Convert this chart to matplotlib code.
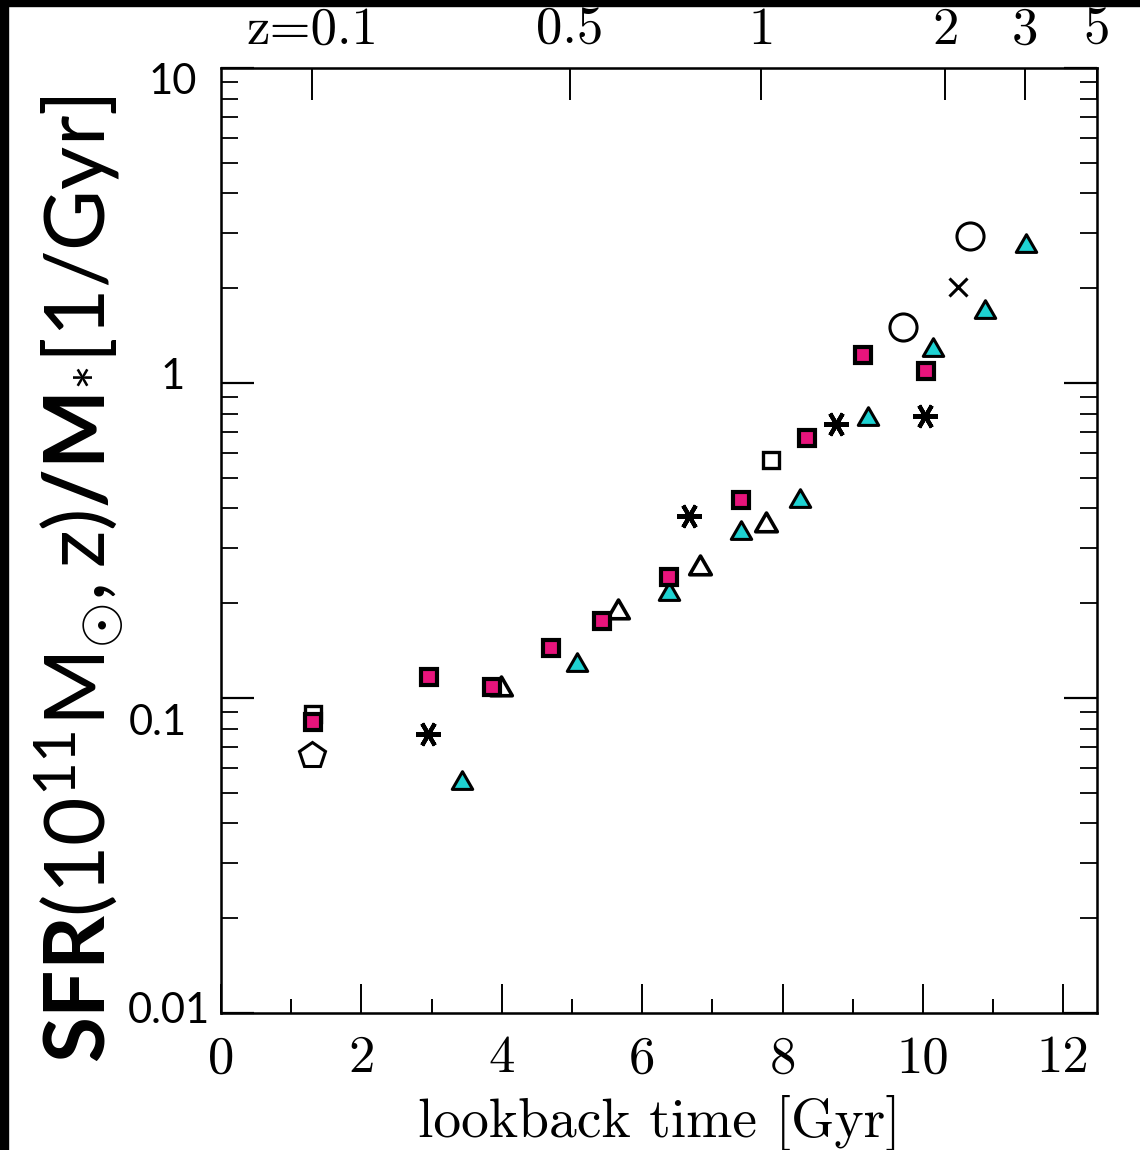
import matplotlib
matplotlib.use('Agg')
import matplotlib.pyplot as plt
from matplotlib.patches import Rectangle
from matplotlib.path import Path
from matplotlib import transforms

# values: lookback time [Gyr], SFR/M* [1/Gyr]
pink_t = [1.31, 2.96, 3.86, 4.70, 5.43, 6.38, 7.41, 8.35, 9.15, 10.04]
pink_s = [0.084, 0.117, 0.108, 0.144, 0.176, 0.243, 0.424, 0.668, 1.23, 1.09]
cyan_t = [3.43, 5.07, 6.38, 7.41, 8.25, 9.22, 10.14, 10.88, 11.47]
cyan_s = [0.0536, 0.127, 0.214, 0.333, 0.421, 0.768, 1.27, 1.68, 2.73]
otri_t = [3.99, 5.66, 6.82, 7.76]
otri_s = [0.107, 0.188, 0.259, 0.353]
star_t = [2.95, 6.67, 8.76, 10.03]
star_s = [0.077, 0.377, 0.740, 0.785]
circ_t = [9.72, 10.67]
circ_s = [1.51, 2.92]
cross_t = [10.50]
cross_s = [2.01]
osq_t = [1.31, 7.83]
osq_s = [0.089, 0.569]
pent_t = [1.30]
pent_s = [0.066]

xtick_major = [0, 2, 4, 6, 8, 10, 12]
xtick_minor = [1, 3, 5, 7, 9, 11]
z_labels = ['z=0.1', '0.5', '1', '2', '3', '5']
z_lookback = [1.30, 4.97, 7.70, 10.32, 11.46, 12.48]
ytick_vals = [10, 1, 0.1, 0.01]
ytick_text = ['10', '1', '0.1', '0.01']

PINK = '#e8147c'
CYAN = '#1ed2d2'
serif = 'cmr10'

plt.rcParams['mathtext.fontset'] = 'custom'
plt.rcParams['mathtext.rm'] = 'Lato'
plt.rcParams['mathtext.bf'] = 'Lato:bold'
plt.rcParams['mathtext.it'] = 'Lato:italic'
plt.rcParams['axes.formatter.use_mathtext'] = True

fig = plt.figure(figsize=(11.4, 11.5), dpi=100)
ax = fig.add_axes([221/1140, 1 - 1013/1150, 876/1140, 945/1150])

tri = Path([(0, 1), (-0.866, -0.5), (0.866, -0.5), (0, 1)], closed=True)

ax.plot(otri_t, otri_s, ls='none', marker=tri, ms=18, mfc='white', mec='black', mew=2.6, zorder=3)
ax.plot(osq_t, osq_s, ls='none', marker='s', ms=12, mfc='white', mec='black', mew=2.4, zorder=3)
ax.plot(pent_t, pent_s, ls='none', marker='p', ms=19, mfc='white', mec='black', mew=2.2, zorder=3)
ax.plot(circ_t, circ_s, ls='none', marker='o', ms=19.5, mfc='white', mec='black', mew=2.2, zorder=3)
ax.plot(cross_t, cross_s, ls='none', marker='x', ms=13, mec='black', mew=2.2, zorder=3)
ax.plot(star_t, star_s, ls='none', marker=(6, 2, 30), ms=18, mec='black', mew=3.0, zorder=3)
ax.plot(cyan_t, cyan_s, ls='none', marker=tri, ms=17, mfc=CYAN, mec='black', mew=2.2, zorder=4)
ax.plot(pink_t, pink_s, ls='none', marker='s', ms=11, mfc=PINK, mec='black', mew=3.0, zorder=5)

ax.set_yscale('log')
ax.set_ylim(0.01, 10)
ax.set_xlim(0, 12.48)

ax.set_xticks(xtick_major)
ax.set_xticklabels([str(v) for v in xtick_major], fontfamily=serif, fontsize=38)
ax.set_xticks(xtick_minor, minor=True)
ax.tick_params(axis='x', which='major', direction='in', length=21, width=1.4, pad=16, top=False)
ax.tick_params(axis='x', which='minor', direction='in', length=10, width=1.4, top=False)
ax.tick_params(axis='y', which='major', direction='in', length=24, width=1.6, right=True, labelleft=False)
ax.tick_params(axis='y', which='minor', direction='in', length=12, width=1.3, right=True, labelleft=False)
for sp in ax.spines.values():
    sp.set_linewidth(1.8)

# y tick labels placed by hand, they sit a little off the ticks in the reference
ylab_x = [-0.0274, -0.041, -0.039, -0.0126]
ylab_dy = [-26, -6, -37, -10]
for v, s, xx, dy in zip(ytick_vals, ytick_text, ylab_x, ylab_dy):
    tr = transforms.offset_copy(ax.get_yaxis_transform(), fig=fig, x=0, y=dy, units='dots')
    ax.text(xx, v, s, transform=tr, ha='right', va='baseline', fontfamily='Lato', fontsize=30)

ax2 = ax.twiny()
ax2.set_xlim(ax.get_xlim())
ax2.set_xticks(z_lookback)
ax2.set_xticklabels(z_labels, fontfamily=serif, fontsize=38)
ax2.tick_params(axis='x', direction='in', length=23, width=1.4, pad=10)
ax2.tick_params(axis='x', which='minor', top=False, bottom=False)

ax.set_xlabel('lookback time [Gyr]', fontfamily=serif, fontsize=40)
ax.xaxis.set_label_coords(0.5, -0.087)

ylab = r'$\mathbf{SFR}(10^{11}\mathrm{M}_{\odot}\mathrm{,z})\mathbf{/M}_{*}[1/\mathrm{Gyr}]$'
fs = 60
yl = fig.text(106/1140, 1 - 1063/1150, ylab, rotation=90, rotation_mode='anchor',
              ha='left', va='baseline', fontsize=fs)
fig.canvas.draw()
h = yl.get_window_extent().height
yl.set_fontsize(fs * 968 / h)

# black strips along the left and top edge
fig.patches.append(Rectangle((0, 0), 8/1140, 1, transform=fig.transFigure, color='black', zorder=10))
fig.patches.append(Rectangle((0, 1 - 6/1150), 1, 6/1150, transform=fig.transFigure, color='black', zorder=10))

fig.savefig('out.png', dpi=100)
